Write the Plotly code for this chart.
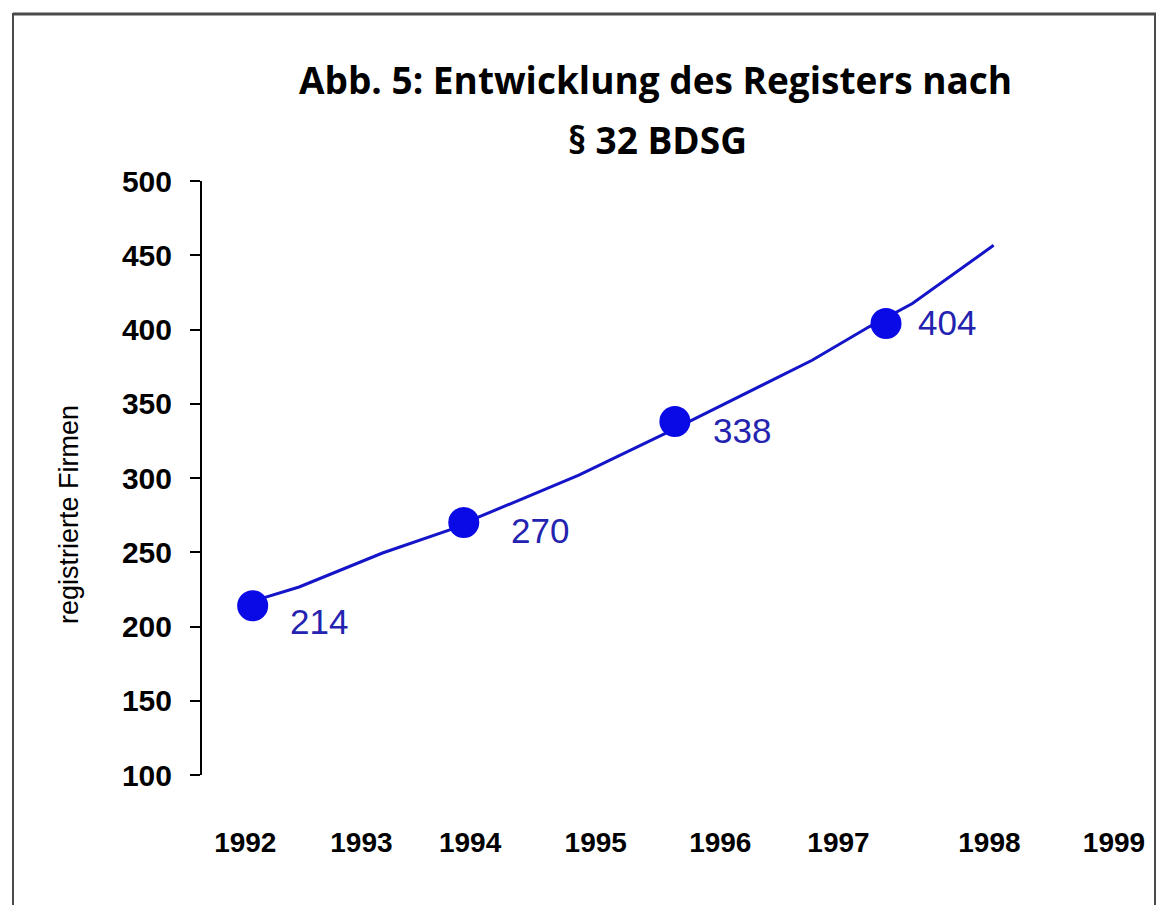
import plotly.graph_objects as go

# ---- data ----
point_years = [1992, 1994, 1996, 1998]
point_values = [214, 270, 338, 404]

trend_years = [1992.00, 1992.44, 1993.23, 1993.86, 1994.15, 1995.09,
               1995.91, 1996.10, 1997.30, 1997.84, 1998.25, 1999.02]
trend_values = [217.1, 226.6, 249.5, 264.9, 274.0, 301.9,
                330.0, 336.7, 379.3, 401.8, 417.5, 456.7]

tick_labels = ["1992", "1993", "1994", "1995", "1996", "1997", "1998", "1999"]
tick_positions = [1991.93, 1993.03, 1994.06, 1995.25, 1996.43, 1997.55, 1998.98, 2000.16]

y_ticks = [100, 150, 200, 250, 300, 350, 400, 450, 500]

title_line1 = "Abb. 5: Entwicklung des Registers nach"
title_line2 = "§ 32 BDSG"
y_title = "registrierte Firmen"

# ---- layout geometry ----
W, H = 1161, 905
ML, MR, MT, MB = 202, 9, 181, 130
PW, PH = W - ML - MR, H - MT - MB


def px_x(p):
    return (p - ML) / PW


def px_y(p):
    return (H - MB - p) / PH


BLUE_MARK = "#0a0ae6"
BLUE_LINE = "#1414c8"
BLUE_TEXT = "#2323b0"

fig = go.Figure()
fig.add_trace(go.Scatter(
    x=trend_years, y=trend_values, mode="lines",
    line=dict(color=BLUE_LINE, width=3), hoverinfo="skip", showlegend=False))
fig.add_trace(go.Scatter(
    x=point_years, y=point_values, mode="markers",
    marker=dict(color=BLUE_MARK, size=31), showlegend=False))

label_dx = [66, 76, 67, 61]
label_dy = [-16, -8, -9, 1]
annotations = []
for xv, yv, dx, dy in zip(point_years, point_values, label_dx, label_dy):
    annotations.append(dict(
        x=xv, y=yv, xref="x", yref="y", text=str(yv), showarrow=False,
        xshift=dx, yshift=dy, xanchor="center", yanchor="middle",
        font=dict(family="Liberation Sans, Arial", size=35, color=BLUE_TEXT)))

annotations.append(dict(
    x=px_x(655), y=px_y(79), xref="paper", yref="paper", text=title_line1,
    showarrow=False, xanchor="center", yanchor="middle",
    font=dict(family="Open Sans", size=37, color="black", weight="bold")))
annotations.append(dict(
    x=px_x(657), y=px_y(139), xref="paper", yref="paper", text=title_line2,
    showarrow=False, xanchor="center", yanchor="middle",
    font=dict(family="Open Sans", size=37, color="black", weight="bold")))
annotations.append(dict(
    x=px_x(69), y=px_y(515), xref="paper", yref="paper", text=y_title,
    showarrow=False, xanchor="center", yanchor="middle", textangle=-90,
    font=dict(family="Liberation Sans, Arial", size=27, color="black")))

frame_col = "#4a4a4a"
shapes = [
    dict(type="line", xref="paper", yref="paper", x0=px_x(13), x1=px_x(1156),
         y0=px_y(14), y1=px_y(14), line=dict(color=frame_col, width=3)),
    dict(type="line", xref="paper", yref="paper", x0=px_x(13), x1=px_x(13),
         y0=px_y(13), y1=px_y(910), line=dict(color=frame_col, width=2)),
    dict(type="line", xref="paper", yref="paper", x0=px_x(1155), x1=px_x(1155),
         y0=px_y(13), y1=px_y(910), line=dict(color=frame_col, width=2)),
]

fig.update_layout(
    width=W, height=H,
    margin=dict(l=ML, r=MR, t=MT, b=MB, pad=0),
    paper_bgcolor="white", plot_bgcolor="white",
    annotations=annotations, shapes=shapes,
    xaxis=dict(range=[1991.52, 2000.52], tickmode="array",
               tickvals=tick_positions, ticktext=tick_labels,
               showline=False, showgrid=False, zeroline=False, ticks="",
               ticklabelstandoff=48,
               tickfont=dict(family="Liberation Sans, Arial", size=28,
                             color="black", weight="bold")),
    yaxis=dict(range=[100, 500], tickmode="array", tickvals=y_ticks,
               showline=True, linecolor="black", linewidth=2,
               ticks="outside", ticklen=10, tickwidth=2, tickcolor="black",
               showgrid=False, zeroline=False, ticklabelstandoff=12,
               tickfont=dict(family="Liberation Sans, Arial", size=30,
                             color="black", weight="bold")),
)

fig.write_html("out.html", config={"displayModeBar": False},
               post_script="document.body.style.margin='0';")
